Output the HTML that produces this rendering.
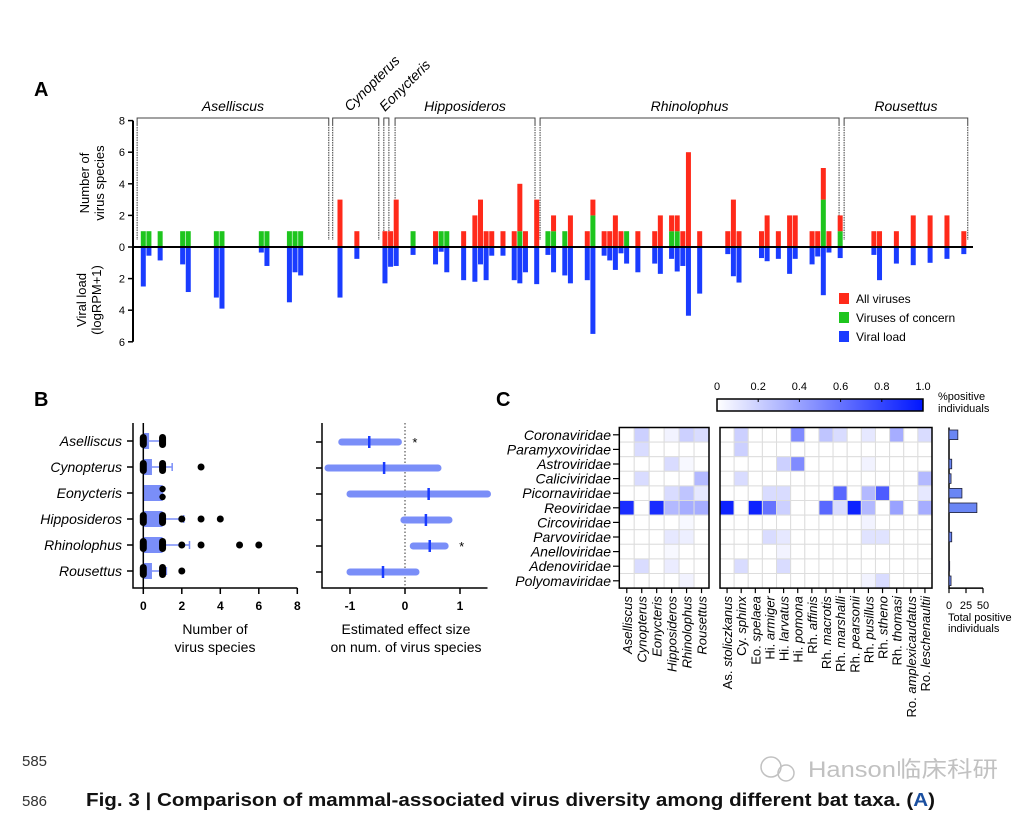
<!DOCTYPE html>
<html><head><meta charset="utf-8"><style>
body{margin:0;background:#fff;}
svg{display:block;font-family:"Liberation Sans","Noto Sans CJK SC",sans-serif;}
</style></head><body>
<svg id="fig" width="1031" height="816" viewBox="0 0 1031 816" xmlns="http://www.w3.org/2000/svg">
<rect width="1031" height="816" fill="#fff"/>
<g id="pa"></g>
<g id="pb"></g>
<g id="pc"></g>
<text x="22" y="766" font-size="15" fill="#333">585</text>
<text x="22" y="806" font-size="15" fill="#333">586</text>
<text x="86" y="806" font-size="18" font-weight="bold" fill="#111" textLength="849" lengthAdjust="spacingAndGlyphs">Fig. 3 | Comparison of mammal-associated virus diversity among different bat taxa. (<tspan fill="#1a4fa0">A</tspan>)</text>
<g opacity="0.6">
<circle cx="771" cy="767" r="10" fill="none" stroke="#999" stroke-width="1.5"/><circle cx="786" cy="773" r="8" fill="none" stroke="#999" stroke-width="1.5"/>
<text x="808" y="777" font-size="22" fill="#999" textLength="190" lengthAdjust="spacingAndGlyphs">Hanson临床科研</text></g>
</svg>
<script>
// ===== Panel A data =====
const aSlots=[0,1,3,7,8,13,14,21,22,26,27,28,35,38,43,44,45,48,52,53,54,57,59,60,61,62,64,66,67,68,70,72,73,75,76,79,80,82,83,84,85,86,88,91,92,94,95,96,97,99,104,105,106,110,111,113,115,116,119,120,121,122,124,130,131,134,137,140,143,146];
const aAll=[1,1,1,1,1,1,1,1,1,1,1,1,3,1,1,1,3,1,1,1,1,1,2,3,1,1,1,1,4,1,3,1,2,1,2,1,3,1,1,2,1,1,1,1,2,2,2,1,6,1,1,3,1,1,2,1,2,2,1,1,5,1,2,1,1,1,2,2,2,1];
const aConcern=[1,1,1,1,1,1,1,1,1,1,1,1,0,0,0,0,0,1,0,1,1,0,0,0,0,0,0,0,1,0,0,1,1,1,0,0,2,0,0,0,0,1,0,0,0,1,1,0,0,0,0,0,0,0,0,0,0,0,0,0,3,0,1,0,0,0,0,0,0,0];
const aLoad=[2.5,0.55,0.85,1.1,2.85,3.2,3.9,0.35,1.2,3.5,1.6,1.8,3.2,0.75,2.3,1.25,1.2,0.5,1.1,0.3,1.6,2.1,2.2,1.1,2.1,0.55,0.55,2.1,2.3,1.6,2.35,0.5,1.6,1.8,2.3,2.1,5.5,0.55,0.85,1.45,0.4,1.05,1.6,1.05,1.7,0.75,1.55,1.2,4.35,2.95,0.45,1.85,2.25,0.7,0.9,0.75,1.7,0.75,1.1,0.6,3.05,0.35,0.7,0.5,2.1,1.05,1.15,1.0,0.75,0.45];
const aGroups=["Aselliscus","Cynopterus","Eonycteris","Hipposideros","Rhinolophus","Rousettus"];
const aGroupSpan=[[-1.1,33.0],[33.7,41.9],[42.8,43.7],[44.8,69.7],[70.6,123.8],[124.7,146.7]];
const aTopTicks=[0,2,4,6,8];
const aBotTicks=[0,2,4,6];
// ===== Panel B data =====
const bTaxa=["Aselliscus","Cynopterus","Eonycteris","Hipposideros","Rhinolophus","Rousettus"];
const bMean=[0.3,0.45,1.0,1.0,1.0,0.45];
const bErr=[1.0,1.5,1.0,2.1,2.4,1.2];
const bPoints=[[0,1],[0,1,3],[1],[0,1,2,3,4],[0,1,2,3,5,6],[0,1,2]];
const bTicks=[0,2,4,6,8];
const eEst=[-0.65,-0.38,0.43,0.38,0.45,-0.4];
const eLo=[-1.15,-1.4,-1.0,-0.02,0.15,-1.0];
const eHi=[-0.12,0.6,1.5,0.8,0.73,0.2];
const eSig=[1,0,0,0,1,0];
const eTicks=[-1,0,1];
// ===== Panel C data =====
const cRows=["Coronaviridae","Paramyxoviridae","Astroviridae","Caliciviridae","Picornaviridae","Reoviridae","Circoviridae","Parvoviridae","Anelloviridae","Adenoviridae","Polyomaviridae"];
const cGenera=["Aselliscus","Cynopterus","Eonycteris","Hipposideros","Rhinolophus","Rousettus"];
const cSpecies=["As. stoliczkanus","Cy. sphinx","Eo. spelaea","Hi. armiger","Hi. larvatus","Hi. pomona","Rh. affinis","Rh. macrotis","Rh. marshalli","Rh. pearsonii","Rh. pusillus","Rh. stheno","Rh. thomasi","Ro. amplexicaudatus","Ro. leschenaultii"];
const cGenusVals=[[0,0.2,0,0.05,0.2,0.15],[0,0.15,0,0,0,0],[0,0,0,0.15,0.03,0],[0,0.15,0,0,0,0.3],[0,0,0,0.15,0.25,0.1],[0.9,0,0.9,0.3,0.35,0.35],[0,0,0,0,0.03,0],[0,0,0,0.1,0.07,0],[0,0,0,0.03,0,0],[0,0.15,0,0.08,0,0],[0,0,0,0,0.05,0]];
const cSpeciesVals=[
[0,0.2,0,0,0,0.5,0,0.25,0.15,0,0.1,0,0.35,0,0.15],
[0,0.2,0,0,0,0,0,0,0,0,0,0,0,0,0],
[0,0,0,0,0.2,0.5,0,0,0,0,0.05,0,0,0,0],
[0,0.15,0,0,0,0,0,0,0,0,0,0,0,0,0.3],
[0,0,0,0.15,0.15,0,0,0,0.65,0,0.3,0.7,0,0,0.1],
[0.95,0,0.95,0.6,0.2,0,0,0.65,0.15,0.95,0.3,0,0.4,0,0.35],
[0,0,0,0,0,0,0,0,0,0,0.05,0,0,0,0],
[0,0,0,0.15,0.1,0,0,0,0,0,0.12,0.12,0,0,0],
[0,0,0,0,0.05,0,0,0,0,0,0,0,0,0,0],
[0,0.15,0,0,0.15,0,0,0,0,0,0,0,0,0,0],
[0,0,0,0,0,0,0,0,0,0,0.05,0.15,0,0,0]];
const cTotals=[13,0,4,3,19,41,0,4,0,1,3];
const cTotalTicks=[0,25,50];
const cBarTicks=[0,0.2,0.4,0.6,0.8,1.0];

const NS="http://www.w3.org/2000/svg";
function mk(parent,tag,attrs,text){const e=document.createElementNS(NS,tag);for(const k in attrs)e.setAttribute(k,attrs[k]);if(text!==undefined)e.textContent=text;parent.appendChild(e);return e;}

// ===== Panel A =====
const pa=document.getElementById('pa');
const axX=133,y0=247,unit=15.8,slot0=143.3,slotW=5.62,barW=5;
const sx=s=>slot0+s*slotW;
const yUp=v=>y0-v*unit, yDn=v=>y0+v*unit;
let t=mk(pa,'text',{x:34,y:96,'font-size':20,'font-weight':'bold'},'A');


aGroups.forEach((g,i)=>{
 const x1=sx(aGroupSpan[i][0]),x2=sx(aGroupSpan[i][1]);
 const br=mk(pa,'path',{d:`M${x1} 240 V118 H${x2} V240`,fill:'none',stroke:'#444','stroke-width':1});
 
 
 mk(pa,'path',{d:`M${x1} 126 V240 M${x2} 126 V240`,stroke:'#fff','stroke-width':1.2,'stroke-dasharray':'1 1.5'});
 let lab;
 if(i===1||i===2){
  const cx=i===1?350:385;
  lab=mk(pa,'text',{x:cx,y:112,'font-size':14,'font-style':'italic',transform:`rotate(-45 ${cx} 112)`},g);
 }else{
  lab=mk(pa,'text',{x:(x1+x2)/2,y:111,'font-size':14,'font-style':'italic','text-anchor':'middle'},g);
 }
 
 
});
let ax=mk(pa,'path',{d:`M${axX} ${yUp(8)} V${yDn(6)}`,stroke:'#000','stroke-width':2});


aTopTicks.forEach(v=>{mk(pa,'path',{d:`M${axX-5} ${yUp(v)} H${axX}`,stroke:'#000','stroke-width':1.5});
 const tl=mk(pa,'text',{x:axX-8,y:yUp(v)+4,'font-size':11,'text-anchor':'end'},v);
 
 });
aBotTicks.forEach(v=>{if(v===0)return;mk(pa,'path',{d:`M${axX-5} ${yDn(v)} H${axX}`,stroke:'#000','stroke-width':1.5});
 const tl=mk(pa,'text',{x:axX-8,y:yDn(v)+4,'font-size':11,'text-anchor':'end'},v);
 
 });
let yl=mk(pa,'text',{x:0,y:0,'font-size':13,'text-anchor':'middle',transform:'translate(95,183) rotate(-90)'});


mk(yl,'tspan',{x:0,dy:-6},'Number of');mk(yl,'tspan',{x:0,dy:15},'virus species');
let yl2=mk(pa,'text',{x:0,y:0,'font-size':13,'text-anchor':'middle',transform:'translate(92,300) rotate(-90)'});


mk(yl2,'tspan',{x:0,dy:-6},'Viral load');mk(yl2,'tspan',{x:0,dy:15},'(logRPM+1)');
aSlots.forEach((s,i)=>{
 const x=sx(s)-barW/2;
 if(aConcern[i]>0){const r=mk(pa,'rect',{x,y:yUp(aConcern[i]),width:barW,height:aConcern[i]*unit,fill:'#1ec51e'});
  
  }
 if(aAll[i]>aConcern[i]){const r=mk(pa,'rect',{x,y:yUp(aAll[i]),width:barW,height:(aAll[i]-aConcern[i])*unit,fill:'#ff2a1a'});
  
  }
 const b=mk(pa,'rect',{x,y:y0,width:barW,height:aLoad[i]*unit,fill:'#1a3cff'});
 
 
});
let zl=mk(pa,'path',{d:`M${axX} ${y0} H973`,stroke:'#000','stroke-width':2});


[['All viruses','#ff2a1a'],['Viruses of concern','#1ec51e'],['Viral load','#1a3cff']].forEach((l,i)=>{
 const g=mk(pa,'g',{});
 
 
 mk(g,'rect',{x:839,y:293+i*19,width:10,height:11,fill:l[1]});
 mk(g,'text',{x:856,y:303+i*19,'font-size':12},l[0]);
});

// ===== Panel B =====
const pb=document.getElementById('pb');
t=mk(pb,'text',{x:34,y:406,'font-size':20,'font-weight':'bold'},'B');


const bx0=143.3,bpx=19.25,rowY=i=>441+i*26;
const bX=v=>bx0+v*bpx;
mk(pb,'path',{d:`M133 423 V588 H${bX(8)}`,fill:'none',stroke:'#000','stroke-width':1.5});
bTicks.forEach(v=>{mk(pb,'path',{d:`M${bX(v)} 588 V594`,stroke:'#000','stroke-width':1.5});
 const tl=mk(pb,'text',{x:bX(v),y:610,'font-size':12,'font-weight':'bold','text-anchor':'middle'},v);
 
 });
bTaxa.forEach((n,i)=>{
 const y=rowY(i);
 mk(pb,'path',{d:`M127 ${y} H133`,stroke:'#000','stroke-width':1.5});
 const tl=mk(pb,'text',{x:122,y:y+5,'font-size':14,'font-style':'italic','text-anchor':'end'},n);
 
 
 const r=mk(pb,'rect',{x:bX(0),y:y-8,width:bMean[i]*bpx,height:16,fill:'#7a8ef8'});
 
 
 mk(pb,'path',{d:`M${bX(bMean[i])} ${y} H${bX(bErr[i])} M${bX(bErr[i])} ${y-4} V${y+4}`,stroke:'#7a8ef8','stroke-width':1.5});
 bPoints[i].forEach(p=>{
  if(i===2){[-4,4].forEach(d=>{const c=mk(pb,'circle',{cx:bX(p),cy:y+d,r:3.2,fill:'#000'});});return;}
  const c=mk(pb,'rect',{x:bX(p)-3.5,y:y-(p<=1?7:3.5),width:7,height:p<=1?14:7,rx:3.5,fill:'#000'});
  
  
 });
});
mk(pb,'path',{d:`M${bX(0)} 423 V588`,stroke:'#000','stroke-width':1.5});
let bt=mk(pb,'text',{x:215,y:634,'font-size':14,'text-anchor':'middle'});


mk(bt,'tspan',{x:215,dy:0},'Number of');mk(bt,'tspan',{x:215,dy:18},'virus species');
const eX=v=>405+v*55;
mk(pb,'path',{d:`M322 423 V588 H${eX(1.5)}`,fill:'none',stroke:'#000','stroke-width':1.5});
mk(pb,'path',{d:`M${eX(0)} 423 V588`,stroke:'#333','stroke-width':1,'stroke-dasharray':'1.5 2'});
eTicks.forEach(v=>{mk(pb,'path',{d:`M${eX(v)} 588 V594`,stroke:'#000','stroke-width':1.5});
 const tl=mk(pb,'text',{x:eX(v),y:610,'font-size':12,'font-weight':'bold','text-anchor':'middle'},v===-1?'-1':v);
 
 });
eEst.forEach((v,i)=>{
 const y=rowY(i)+1;
 mk(pb,'path',{d:`M316 ${y} H322`,stroke:'#000','stroke-width':1.5});
 const l=mk(pb,'path',{d:`M${eX(eLo[i])} ${y} H${eX(eHi[i])}`,stroke:'#7a8ef8','stroke-width':7,'stroke-linecap':'round'});
 
 
 const m=mk(pb,'path',{d:`M${eX(v)} ${y-6} V${y+6}`,stroke:'#1a3cff','stroke-width':2.5});
 
 
 if(eSig[i]){const s=mk(pb,'text',{x:eX(eHi[i])+14,y:y+5,'font-size':13},'*');}
});
let et=mk(pb,'text',{x:406,y:634,'font-size':14,'text-anchor':'middle'});


mk(et,'tspan',{x:406,dy:0},'Estimated effect size');mk(et,'tspan',{x:406,dy:18},'on num. of virus species');

// ===== Panel C =====
const pc=document.getElementById('pc');
t=mk(pc,'text',{x:496,y:406,'font-size':20,'font-weight':'bold'},'C');


const cTop=427.5,rowH=14.6;
const col=v=>{const a=Math.max(0,Math.min(1,v));const r=Math.round(255*(1-a)),g=Math.round(255-(255-22)*a);return `rgb(${r},${g},255)`;};
function heat(x0,w,vals,names,tag){
 const n=names.length,cw=w/n;
 vals.forEach((row,r)=>row.forEach((v,c)=>{
  const e=mk(pc,'rect',{x:x0+c*cw,y:cTop+r*rowH,width:cw,height:rowH,fill:col(v),stroke:'#ddd','stroke-width':1});
  
  
 }));
 const fr=mk(pc,'rect',{x:x0,y:cTop,width:w,height:rowH*vals.length,fill:'none',stroke:'#000','stroke-width':1.5});
 
 
 names.forEach((nm,c)=>{
  const x=x0+(c+0.5)*cw,yb=cTop+rowH*vals.length;
  mk(pc,'path',{d:`M${x} ${yb} V${yb+5}`,stroke:'#000','stroke-width':1.2});
  const tl=mk(pc,'text',{x:0,y:0,'font-size':13,'font-style':nm.includes('. ')?'normal':'italic','text-anchor':'end',transform:`translate(${x+5},${yb+8}) rotate(-90)`});
  
  
  if(nm.includes('. ')){const p=nm.split(' ');mk(tl,'tspan',{},p[0]+' ');mk(tl,'tspan',{'font-style':'italic'},p.slice(1).join(' '));}
  else tl.textContent=nm;
 });
}
heat(619.3,89.7,cGenusVals,cGenera,'genus');
heat(720,212,cSpeciesVals,cSpecies,'species');
cRows.forEach((n,r)=>{
 const y=cTop+(r+0.5)*rowH;
 mk(pc,'path',{d:`M613 ${y} H619`,stroke:'#000','stroke-width':1.2});
 const tl=mk(pc,'text',{x:611,y:y+5,'font-size':14,'font-style':'italic','text-anchor':'end'},n);
 
 
});
const tX=v=>949+v*0.68;
mk(pc,'path',{d:`M949 ${cTop} V${cTop+rowH*11} H${tX(50)}`,fill:'none',stroke:'#000','stroke-width':1.5});
cTotals.forEach((v,r)=>{
 if(v<=0)return;
 const b=mk(pc,'rect',{x:949,y:cTop+r*rowH+2.5,width:v*0.68,height:rowH-5,fill:'#6a86f4',stroke:'#223','stroke-width':0.8});
 
 
});
cTotalTicks.forEach(v=>{mk(pc,'path',{d:`M${tX(v)} ${cTop+rowH*11} V${cTop+rowH*11+5}`,stroke:'#000','stroke-width':1.2});
 const tl=mk(pc,'text',{x:tX(v),y:609,'font-size':11,'text-anchor':'middle'},v);
 
 });
let tt=mk(pc,'text',{x:948,y:621,'font-size':11});


mk(tt,'tspan',{x:948,dy:0},'Total positive');mk(tt,'tspan',{x:948,dy:11},'individuals');
const defs=mk(document.getElementById('fig'),'defs',{});
const lg=mk(defs,'linearGradient',{id:'cb',x1:0,x2:1,y1:0,y2:0});
mk(lg,'stop',{offset:0,'stop-color':col(0)});mk(lg,'stop',{offset:1,'stop-color':col(1)});
const cbX=v=>717+v*206;
const cb=mk(pc,'rect',{x:717,y:399,width:206,height:12,fill:'url(#cb)',stroke:'#000','stroke-width':1.5});


cBarTicks.forEach(v=>{mk(pc,'path',{d:`M${cbX(v)} 399 V402`,stroke:'#000','stroke-width':1});
 const tl=mk(pc,'text',{x:cbX(v),y:390,'font-size':11,'text-anchor':'middle'},v===0?'0':v.toFixed(1));
 
 });
let ct=mk(pc,'text',{x:938,y:400,'font-size':11});


mk(ct,'tspan',{x:938,dy:0},'%positive');mk(ct,'tspan',{x:938,dy:12},'individuals');
</script>
</body></html>
